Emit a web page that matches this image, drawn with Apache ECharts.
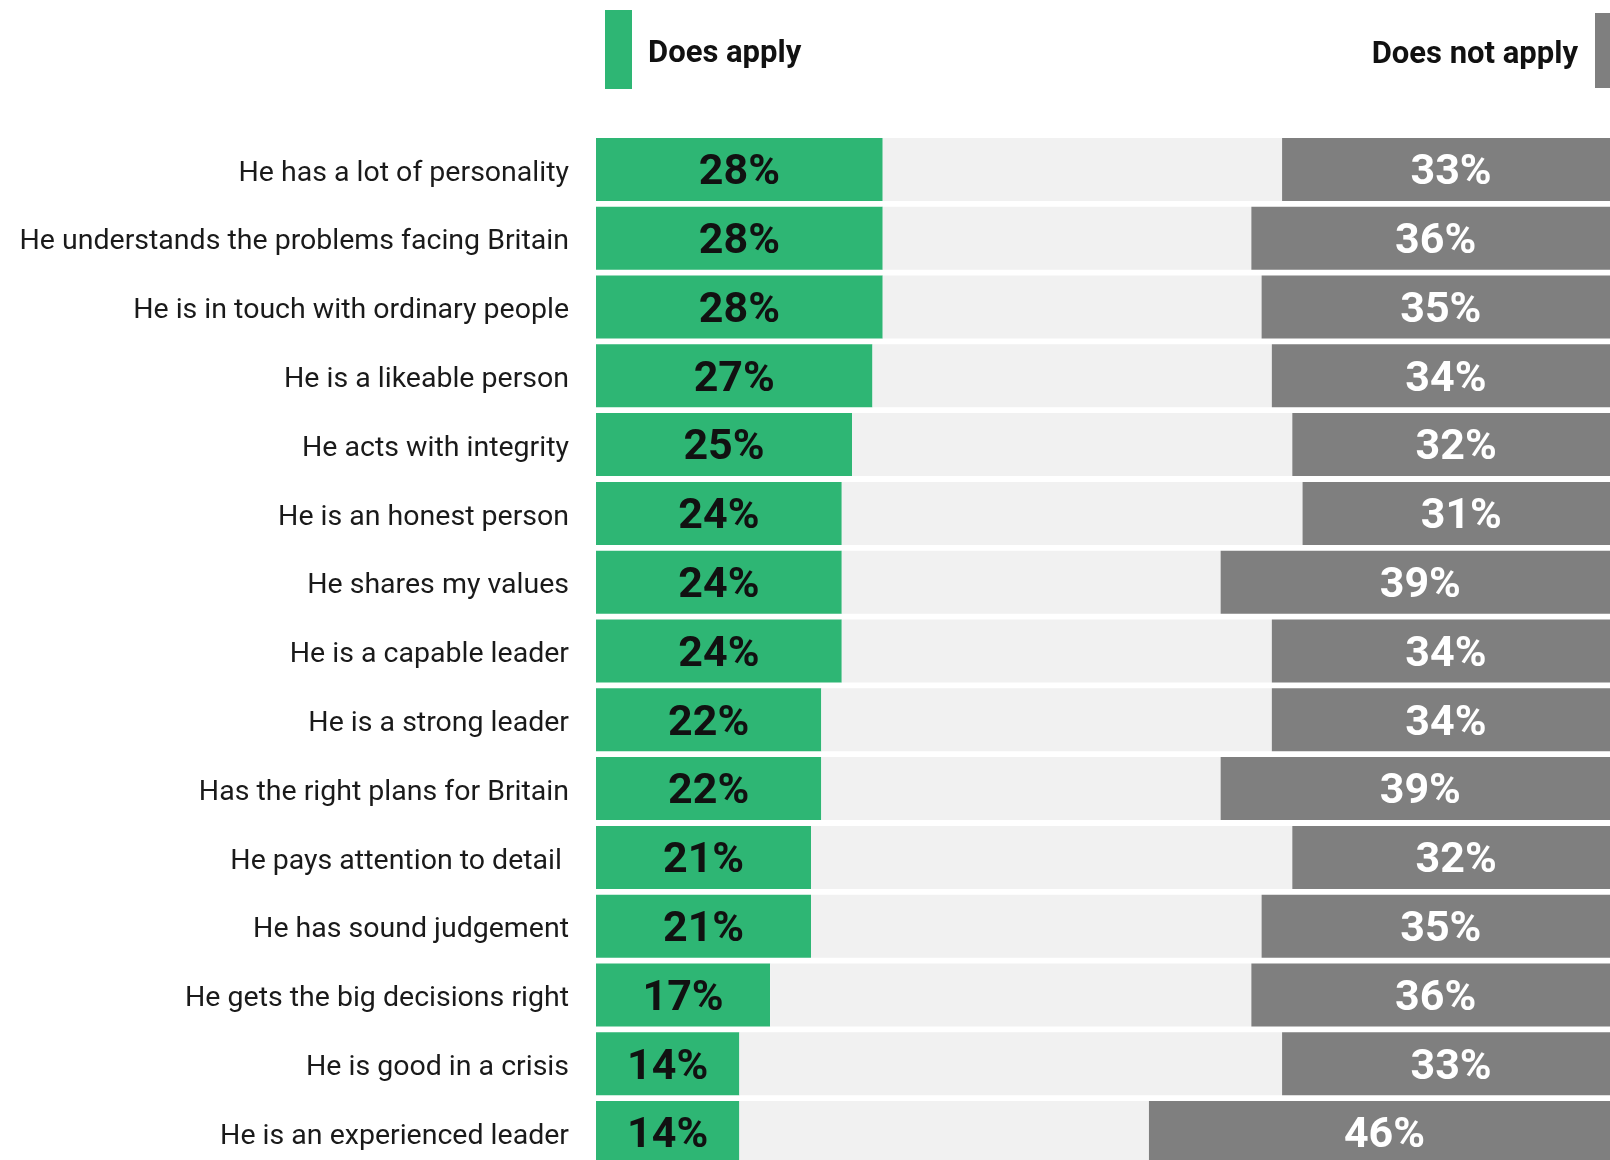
<!DOCTYPE html>
<html>
<head>
<meta charset="utf-8">
<script src="https://cdn.jsdelivr.net/npm/echarts@6/dist/echarts.min.js"></script>
<style>
  html, body { margin: 0; padding: 0; background: #ffffff; }
  #chart { width: 1610px; height: 1160px; }
</style>
</head>
<body>
<div id="chart"></div>
<script>
const categories = [
  "He has a lot of personality",
  "He understands the problems facing Britain",
  "He is in touch with ordinary people",
  "He is a likeable person",
  "He acts with integrity",
  "He is an honest person",
  "He shares my values",
  "He is a capable leader",
  "He is a strong leader",
  "Has the right plans for Britain",
  "He pays attention to detail ",
  "He has sound judgement",
  "He gets the big decisions right",
  "He is good in a crisis",
  "He is an experienced leader"
];
const doesApply    = [28, 28, 28, 27, 25, 24, 24, 24, 22, 22, 21, 21, 17, 14, 14];
const doesNotApply = [33, 36, 35, 34, 32, 31, 39, 34, 34, 39, 32, 35, 36, 33, 46];
const remainder = doesApply.map((v, i) => 100 - v - doesNotApply[i]);

const FONT = "Roboto";
const chart = echarts.init(document.getElementById('chart'), null, { renderer: 'canvas' });

chart.setOption({
  backgroundColor: '#ffffff',
  animation: false,
  legend: [
    {
      data: ['Does apply'],
      left: 605, top: 10, padding: 0,
      icon: 'rect', itemWidth: 27, itemHeight: 79,
      selectedMode: false,
      formatter: '{a|{name}}',
      textStyle: {
        fontFamily: FONT, fontWeight: 'bold', fontSize: 31, color: '#111',
        rich: { a: { fontFamily: FONT, fontWeight: 'bold', fontSize: 31, color: '#111', padding: [9, 0, 0, 11] } }
      }
    },
    {
      data: ['Does not apply'],
      right: -12, top: 13, padding: 0,
      align: 'right',
      icon: 'rect', itemWidth: 27, itemHeight: 75,
      selectedMode: false,
      formatter: '{a|{name}}',
      textStyle: {
        fontFamily: FONT, fontWeight: 'bold', fontSize: 31, color: '#111',
        rich: { a: { fontFamily: FONT, fontWeight: 'bold', fontSize: 31, color: '#111', padding: [9, 12, 0, 0] } }
      }
    }
  ],
  grid: { left: 596, top: 135, width: 1024, height: 1032, containLabel: false, outerBoundsMode: 'none' },
  xAxis: { type: 'value', min: 0, max: 100, show: false },
  yAxis: {
    type: 'category', data: categories, inverse: true,
    axisLine: { show: false }, axisTick: { show: false },
    axisLabel: { fontFamily: FONT, fontSize: 28.5, color: '#1a1a1a', margin: 27, verticalAlign: 'top', lineHeight: 8 }
  },
  series: [
    {
      name: 'Does apply', type: 'bar', stack: 'all', data: doesApply, barWidth: 63,
      itemStyle: { color: '#2eb674' },
      label: { show: true, position: 'inside', formatter: '{c}%', fontFamily: FONT, fontWeight: 'bold', fontSize: 43, color: '#111', offset: [0, 4] }
    },
    {
      name: 'Neither', type: 'bar', stack: 'all', data: remainder, barWidth: 63,
      itemStyle: { color: '#f1f1f1' }, label: { show: false }
    },
    {
      name: 'Does not apply', type: 'bar', stack: 'all', data: doesNotApply, barWidth: 63,
      itemStyle: { color: '#7f7f7f' },
      label: { show: true, position: 'inside', formatter: '{c}%', fontFamily: FONT, fontWeight: 'bold', fontSize: 43, color: '#ffffff', offset: [0, 4] }
    }
  ]
});
</script>
</body>
</html>
